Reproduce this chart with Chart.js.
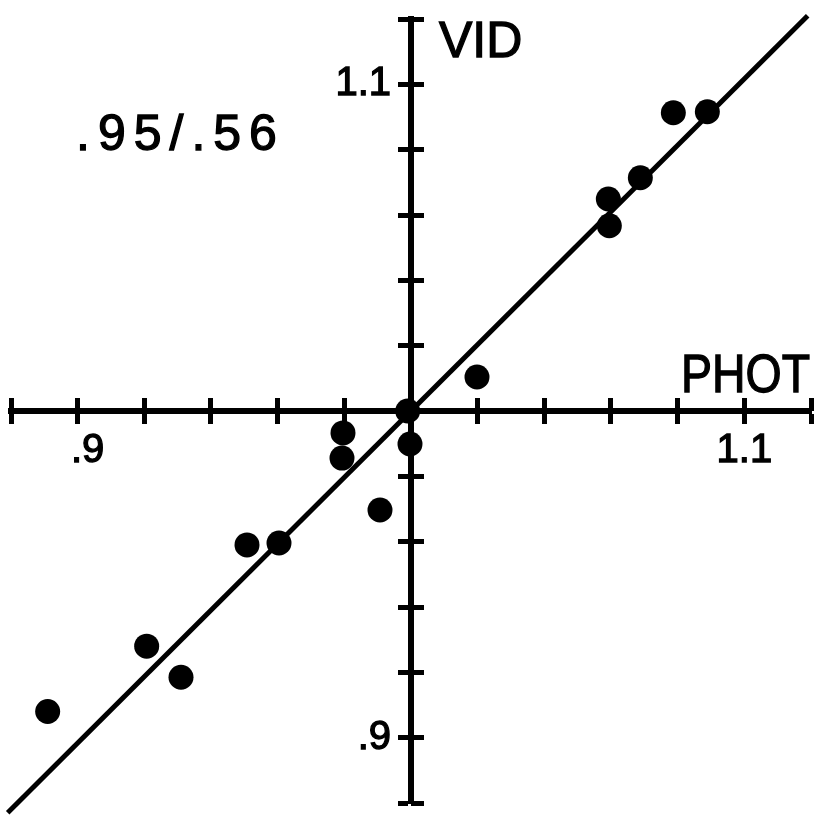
<!DOCTYPE html>
<html><head><meta charset="utf-8">
<script src="https://cdn.jsdelivr.net/npm/chart.js@4"></script>
<style>
html,body{margin:0;padding:0;background:#fff;}
#wrap{position:relative;width:817px;height:816px;overflow:hidden;}
canvas{position:absolute;left:0;top:0;}
.lbl{position:absolute;font-family:'Liberation Sans',Arial,sans-serif;color:#000;line-height:1;white-space:nowrap;-webkit-text-stroke:1.3px #000;}
</style></head><body>
<div id="wrap">
<canvas id="c" width="817" height="816"></canvas>
<div class="lbl" style="left:76px;top:108px;font-size:50px;letter-spacing:8px;">.95/.56</div>
<div class="lbl" style="left:439px;top:15px;font-size:50px;">VID</div>
<div class="lbl" style="left:681px;top:346px;font-size:54px;transform:scaleX(0.86);transform-origin:0 0;">PHOT</div>
</div>
<script>
// PHOT (x) and VID (y) values of the plotted points
const photValues = [0.891, 0.9207, 0.931, 0.9508, 0.9604, 0.9796, 0.9793, 0.9907, 0.999, 0.9997, 1.0198, 1.0592, 1.0595, 1.0688, 1.0787, 1.0889];
const vidValues  = [0.908, 0.928, 0.9185, 0.959, 0.9596, 0.9933, 0.9856, 0.9697, 1.0, 0.9899, 1.0104, 1.0649, 1.0567, 1.0714, 1.0913, 1.0916];
// fitted line end points
const fitLineX = [0.879, 1.119];
const fitLineY = [0.877, 1.121];
// axes
const axisMin = 0.88;
const axisMax = 1.12;
const axisStep = 0.02;
const axisCross = 1.0;
const labeledTicks = [0.9, 1.1];
const xTickText = ['\u2002.9', '1.1'];
const yTickText = ['.9\u2002', '1.1\u2002'];

function tickTextFrom(texts) {
  return function (v) {
    for (let i = 0; i < labeledTicks.length; i++) {
      if (Math.abs(v - labeledTicks[i]) < 1e-6) return texts[i];
    }
    return '';
  };
}

const points = photValues.map((x, i) => ({x: x, y: vidValues[i]}));
const fitLine = fitLineX.map((x, i) => ({x: x, y: fitLineY[i]}));

const FONT = {family: "'Liberation Sans', Arial, sans-serif", size: 40};

function zeroFit(axis) {
  return s => {
    if (axis === 'x') s.height = 0; else s.width = 0;
    s.paddingTop = 0; s.paddingBottom = 0; s.paddingLeft = 0; s.paddingRight = 0;
  };
}

function mainAxis(axis, pos, texts) {
  return {
    type: 'linear', axis: axis, min: axisMin, max: axisMax,
    position: pos,
    afterFit: zeroFit(axis),
    border: {display: true, color: '#000', width: 6},
    grid: {display: true, drawOnChartArea: false, drawTicks: true, tickLength: 10, tickWidth: 5, tickColor: '#000'},
    ticks: {stepSize: axisStep, autoSkip: false, maxRotation: 0, minRotation: 0, padding: 6,
            color: '#000', textStrokeColor: '#000', textStrokeWidth: 1.3,
            font: FONT, callback: tickTextFrom(texts)}
  };
}
function sideAxis(axis, pos) {
  return {
    type: 'linear', axis: axis, min: axisMin, max: axisMax,
    position: pos,
    afterFit: zeroFit(axis),
    border: {display: false},
    grid: {display: true, drawOnChartArea: false, drawTicks: true, tickLength: -13, tickWidth: 5, tickColor: '#000'},
    ticks: {stepSize: axisStep, autoSkip: false, maxRotation: 0, minRotation: 0, display: false, callback: () => ''}
  };
}

new Chart(document.getElementById('c'), {
  type: 'scatter',
  data: {
    datasets: [
      {type: 'scatter', data: points, pointRadius: 12.5, pointHoverRadius: 12.5,
       backgroundColor: '#000', borderColor: '#000', borderWidth: 0, showLine: false},
      {type: 'line', data: fitLine, borderColor: '#000', borderWidth: 5, pointRadius: 0,
       fill: false, tension: 0, clip: false}
    ]
  },
  options: {
    responsive: false,
    animation: false,
    events: [],
    layout: {autoPadding: false, padding: {left: 11, right: 6, top: 19, bottom: 13}},
    plugins: {legend: {display: false}, tooltip: {enabled: false}, title: {display: false}},
    scales: {
      x: mainAxis('x', {y: axisCross}, xTickText),
      y: mainAxis('y', {x: axisCross}, yTickText),
      x2: sideAxis('x', {y: axisCross}),
      y2: sideAxis('y', {x: axisCross})
    }
  }
});
</script>
</body></html>
